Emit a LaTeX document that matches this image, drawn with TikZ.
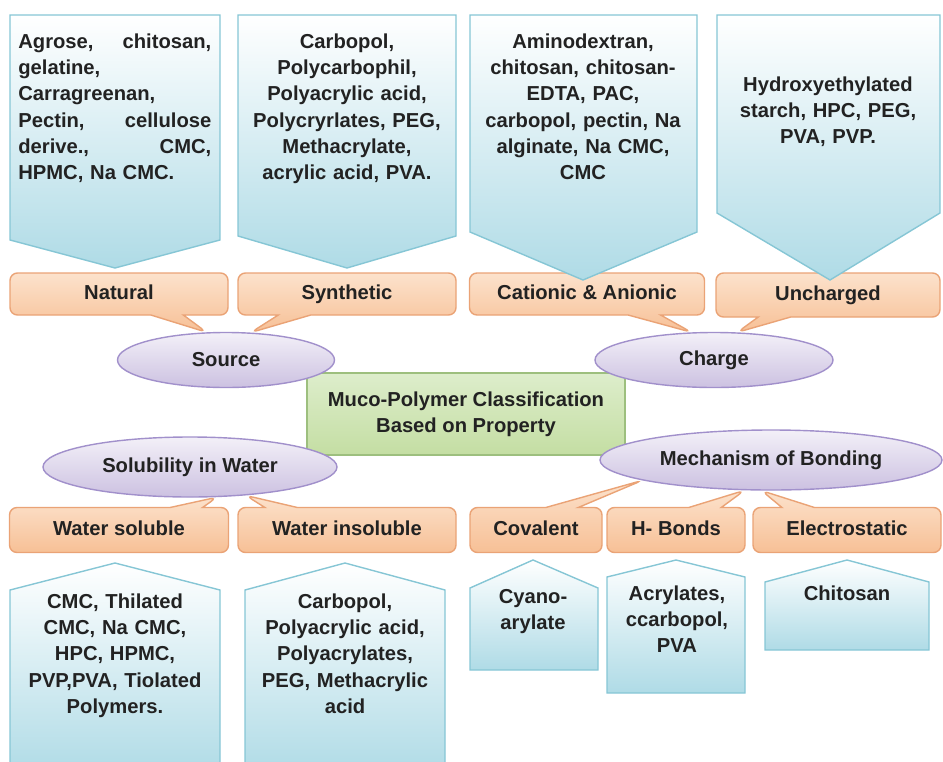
\documentclass[tikz,border=0pt]{standalone}
\usepackage{fontspec}
\setmainfont{Liberation Sans}
\usepackage{tikz}
\usetikzlibrary{shapes.geometric, shapes.callouts}

\definecolor{pentFill}{HTML}{AFDBE6}
\definecolor{pentLine}{HTML}{86C6D5}
\definecolor{callTop}{HTML}{FCE2CC}
\definecolor{callFill}{HTML}{F7C096}
\definecolor{callLine}{HTML}{EAA376}
\definecolor{ovalTop}{HTML}{F3F0F8}
\definecolor{ovalFill}{HTML}{CCC1E1}
\definecolor{ovalLine}{HTML}{A190CB}
\definecolor{rootTop}{HTML}{DDEDCB}
\definecolor{rootFill}{HTML}{C4DEA3}
\definecolor{rootLine}{HTML}{9DBF7E}
\definecolor{txtDark}{HTML}{222222}

\newcommand\px{0.02cm}

\tikzset{
  oval/.style={ellipse, draw=ovalLine, thick, top color=ovalTop, bottom color=ovalFill, inner sep=0pt},
  tagbox/.style={rectangle callout, rounded corners=0.15cm, draw=callLine, thick,
    top color=callTop, bottom color=callFill, callout pointer width=0.65cm, inner sep=0pt,
    text height=8.5pt, text depth=2.5pt},
  pent/.style={draw=pentLine, thick, top color=white, bottom color=pentFill},
  list/.style={align=center, text width=230*\px, anchor=base, inner sep=0pt}
}

\begin{document}
\begin{tikzpicture}[x=\px, y=-\px, font=\bfseries\fontsize{11.5}{15}\selectfont, text=txtDark]
\useasboundingbox (0,0) rectangle (943,761);
\clip (0,0) rectangle (943,761);

% centre
\node[draw=rootLine, thick, top color=rootTop, bottom color=rootFill, align=center,
  minimum width=318*\px, minimum height=82*\px] (root) at (466,414)
  {Muco-Polymer Classification\\Based on Property};

% properties
\node[oval, minimum width=217*\px, minimum height=55*\px] (src) at (226,360) {Source};
\node[oval, minimum width=238*\px, minimum height=55*\px] (chg) at (714,360) {Charge};
\node[oval, minimum width=294*\px, minimum height=60*\px] (sol) at (190,467) {Solubility in Water};
\node[oval, minimum width=342*\px, minimum height=60*\px] (mech) at (771,460) {Mechanism of Bonding};

% classes
\foreach \nm/\x/\y/\w/\h/\tip/\lab in {
  nat/119/294/218/42/src.125/Natural,
  syn/347/294/218/42/src.48/Synthetic,
  cat/587/294/235/42/chg.129/Cationic \& Anionic,
  unc/828/295/224/44/chg.50/Uncharged,
  wsol/119/530/219/45/sol.312/Water soluble,
  wins/347/530/218/45/sol.333/Water insoluble,
  cov/536/530/132/45/mech.189/Covalent,
  hbd/676/530/138/45/mech.229/H- Bonds,
  ele/847/530/188/45/mech.253/Electrostatic} {
  \node[tagbox, minimum width=\w*\px, minimum height=\h*\px,
    callout absolute pointer={(\tip)}] (\nm) at (\x,\y) {\lab};
}

% example boxes, top row
\draw[pent] (10,15) -- (220,15) -- (220,240) -- (115,268) -- (10,240) -- cycle;
\draw[pent] (238,15) -- (456,15) -- (456,236) -- (347,268) -- (238,236) -- cycle;
\draw[pent] (470,15) -- (697,15) -- (697,232) -- (583,280) -- (470,232) -- cycle;
\draw[pent] (717,15) -- (940,15) -- (940,213) -- (830,280) -- (717,213) -- cycle;

% example boxes, bottom row
\draw[pent] (10,775) -- (10,590) -- (115,563) -- (220,590) -- (220,775) -- cycle;
\draw[pent] (245,775) -- (245,590) -- (345,563) -- (445,590) -- (445,775) -- cycle;
\draw[pent] (470,670) -- (470,588) -- (533,560) -- (598,588) -- (598,670) -- cycle;
\draw[pent] (607,693) -- (607,577) -- (676,560) -- (745,577) -- (745,693) -- cycle;
\draw[pent] (765,650) -- (765,582) -- (847,560) -- (929,582) -- (929,650) -- cycle;

% examples
\node[align=left, text width=193*\px, anchor=base west, inner sep=0pt] (natList) at (18,48)
  {Agrose,\hfill chitosan,\\gelatine,\\Carragreenan,\\Pectin,\hfill cellulose\\derive.,\hfill CMC,\\HPMC, Na CMC.};
\node[list] (synList) at (347,48)
  {Carbopol,\\Polycarbophil,\\Polyacrylic acid,\\Polycryrlates, PEG,\\Methacrylate,\\acrylic acid, PVA.};
\node[list] (catList) at (583,48)
  {Aminodextran,\\chitosan, chitosan-\\EDTA, PAC,\\carbopol, pectin, Na\\alginate, Na CMC,\\CMC};
\node[list] (uncList) at (828,91)
  {Hydroxyethylated\\starch, HPC, PEG,\\PVA, PVP.};
\node[list] (wsolList) at (115,608)
  {CMC, Thilated\\CMC, Na CMC,\\HPC, HPMC,\\PVP,PVA, Tiolated\\Polymers.};
\node[list] (winsList) at (345,608)
  {Carbopol,\\Polyacrylic acid,\\Polyacrylates,\\PEG, Methacrylic\\acid};
\node[list] (covList) at (533,603) {Cyano-\\arylate};
\node[list] (hbdList) at (677,600) {Acrylates,\\ccarbopol,\\PVA};
\node[list] (eleList) at (847,600) {Chitosan};
\end{tikzpicture}
\end{document}
